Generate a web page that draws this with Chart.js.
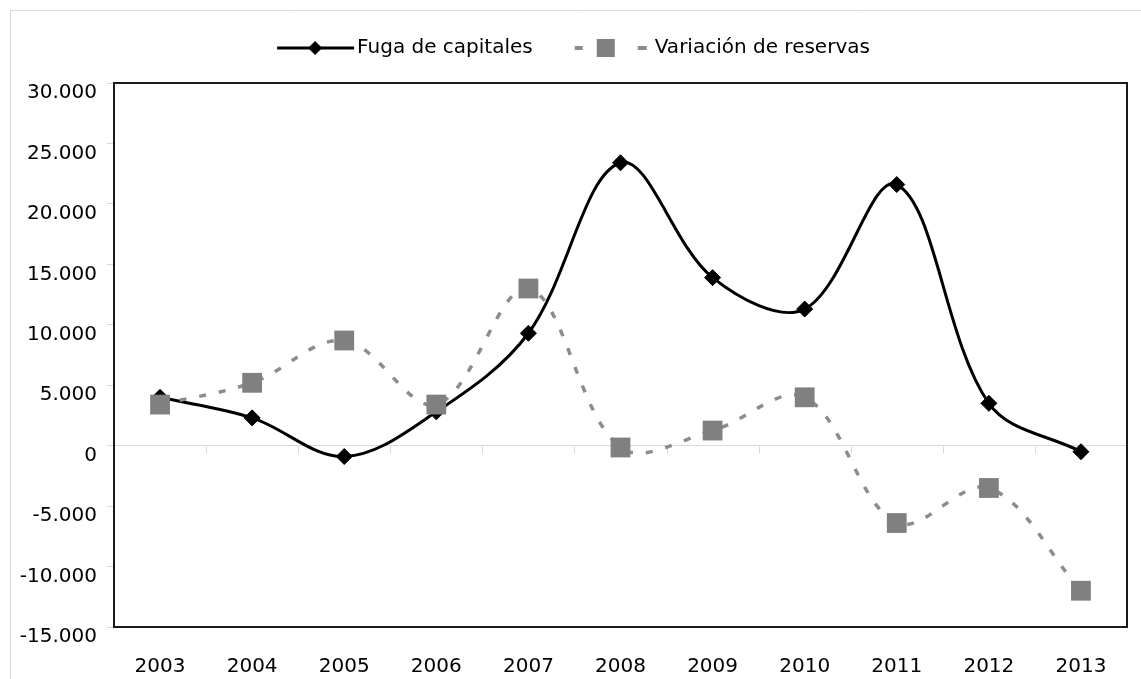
<!DOCTYPE html>
<html><head><meta charset="utf-8">
<script src="https://cdn.jsdelivr.net/npm/chart.js@4/dist/chart.umd.min.js"></script>
<style>html,body{margin:0;padding:0;background:#fff}#wrap{width:1141px;height:679px;position:relative}</style>
</head><body><div id="wrap"><canvas id="c" width="1141" height="679"></canvas></div>
<script>
const categories = ['2003','2004','2005','2006','2007','2008','2009','2010','2011','2012','2013'];
const fugaDeCapitales = [4000, 2300, -900, 2800, 9300, 23400, 13900, 11300, 21600, 3500, -500];
const variacionDeReservas = [3400, 5200, 8700, 3400, 13000, -150, 1250, 4000, -6400, -3500, -12000];
const seriesNames = ['Fuga de capitales', 'Variación de reservas'];
const yMin = -15000, yMax = 30000, yStep = 5000;

function fmt(v){
  if (v === 0) return '0';
  const s = Math.abs(v).toString().replace(/\B(?=(\d{3})+(?!\d))/g, '.');
  return (v < 0 ? '-' : '') + s;
}

function legendImage(kind){
  const cv = document.createElement('canvas');
  cv.width = 98; cv.height = 24;
  const g = cv.getContext('2d');
  if (kind === 0){
    g.strokeStyle = '#000'; g.lineWidth = 3;
    g.beginPath(); g.moveTo(16, 12); g.lineTo(93, 12); g.stroke();
    g.fillStyle = '#000';
    g.beginPath(); g.moveTo(54, 5); g.lineTo(61, 12); g.lineTo(54, 19); g.lineTo(47, 12); g.closePath(); g.fill();
  } else {
    g.fillStyle = '#8c8c8c';
    g.fillRect(16, 10, 8, 4);
    g.fillRect(79, 10, 9, 4);
    g.fillStyle = '#808080';
    g.fillRect(38, 3, 18, 18);
  }
  return cv;
}

const PAD_LEFT = 14;

const decor = {
  id: 'decor',
  afterInit(chart){
    const l = chart.legend;
    const f = l.fit.bind(l);
    l.fit = function(){ f(); l.height = 83; };
  },
  beforeDraw(chart){
    const c = chart.ctx;
    c.save();
    c.fillStyle = '#fff'; c.fillRect(0, 0, chart.width, chart.height);
    c.strokeStyle = '#d9d9d9'; c.lineWidth = 1;
    c.beginPath(); c.moveTo(10.5, chart.height + 2); c.lineTo(10.5, 10.5); c.lineTo(chart.width + 2, 10.5); c.stroke();
    c.restore();
  },
  beforeDatasetsDraw(chart){
    const c = chart.ctx, a = chart.chartArea, xs = chart.scales.x, ys = chart.scales.y;
    const y0 = Math.round(ys.getPixelForValue(0)) + 0.5;
    c.save();
    c.strokeStyle = '#d9d9d9'; c.lineWidth = 1;
    c.beginPath();
    for (let i = 0; i < categories.length - 1; i++){
      const x = Math.round((xs.getPixelForTick(i) + xs.getPixelForTick(i + 1)) / 2) + 0.5;
      c.moveTo(x, y0); c.lineTo(x, y0 + 7);
    }
    c.stroke();
    c.strokeStyle = '#1a1a1a'; c.lineWidth = 2;
    c.strokeRect(a.left, a.top, a.right - a.left, a.bottom - a.top);
    c.restore();
  }
};

new Chart(document.getElementById('c'), {
  type: 'line',
  data: {
    labels: categories,
    datasets: [
      {
        label: seriesNames[0], data: fugaDeCapitales, order: 1,
        borderColor: '#000', borderWidth: 3, tension: 0.35,
        pointStyle: 'rectRot', pointRadius: 8, pointBackgroundColor: '#000', pointBorderColor: '#000', pointBorderWidth: 1,
        fill: false
      },
      {
        label: seriesNames[1], data: variacionDeReservas, order: 0,
        borderColor: '#8c8c8c', borderWidth: 3.5, borderDash: [7, 13], tension: 0.35,
        pointStyle: 'rect', pointRadius: 14, pointBackgroundColor: '#808080', pointBorderColor: '#808080', pointBorderWidth: 0,
        fill: false
      }
    ]
  },
  options: {
    responsive: false, animation: false, events: [],
    layout: { padding: { left: PAD_LEFT, right: 12, top: 0, bottom: 0 } },
    scales: {
      x: {
        offset: true,
        grid: { display: false, drawTicks: false },
        border: { display: false },
        ticks: { color: '#000', font: { family: 'DejaVu Sans', size: 20 }, padding: 28, maxRotation: 0, autoSkip: false },
        afterFit(s){ s.height = 52; }
      },
      y: {
        min: yMin, max: yMax,
        border: { display: false },
        grid: {
          color: ctx => (ctx.tick && ctx.tick.value === 0) ? '#d9d9d9' : 'rgba(0,0,0,0)',
          tickColor: '#d9d9d9', tickLength: 7, lineWidth: 1
        },
        ticks: { stepSize: yStep, color: '#000', font: { family: 'DejaVu Sans', size: 20 }, padding: 10, labelOffset: 10, callback: v => fmt(v) },
        afterFit(s){ s.width = 114 - PAD_LEFT; }
      }
    },
    plugins: {
      tooltip: { enabled: false },
      legend: {
        position: 'top',
        labels: {
          color: '#000', font: { family: 'DejaVu Sans', size: 20 }, padding: 38,
          usePointStyle: true, pointStyleWidth: 74,
          sort: (a, b) => a.datasetIndex - b.datasetIndex,
          generateLabels: chart => seriesNames.map((n, i) => ({
            text: n, datasetIndex: i, pointStyle: legendImage(i),
            fillStyle: 'rgba(0,0,0,0)', strokeStyle: 'rgba(0,0,0,0)', lineWidth: 0, hidden: false, fontColor: '#000'
          }))
        }
      }
    }
  },
  plugins: [decor]
});
</script>
</body></html>
